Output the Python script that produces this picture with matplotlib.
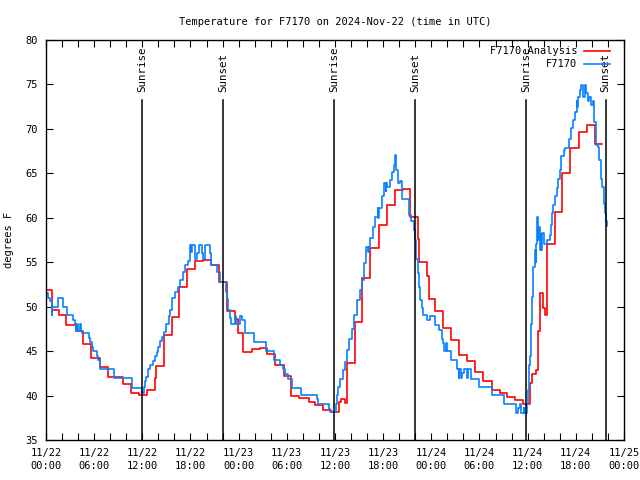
import matplotlib
matplotlib.use("Agg")
import matplotlib.pyplot as plt
from matplotlib.ticker import MultipleLocator, FixedLocator

# hours since 2024-11-22 00:00 UTC, value starts at that hour
analysis_hours = [0.0, 0.7, 1.6, 2.5, 3.7, 4.6, 5.6, 6.7, 7.7, 9.6, 10.6, 11.6,
                  12.6, 13.6, 13.7, 14.7, 15.7, 16.6, 17.6, 18.6, 19.6, 20.6, 21.6,
                  22.5, 23.5, 23.9, 24.5, 25.6, 26.6, 27.5, 28.5, 29.6, 30.5,
                  31.5, 32.7, 33.5, 34.5, 35.5, 36.5, 36.8, 37.2, 37.5, 38.5,
                  39.4, 40.4, 41.5, 42.5, 43.5, 44.5, 45.4, 46.4, 46.5, 47.4,
                  47.7, 48.4, 49.4, 50.4, 51.4, 52.4, 53.4, 54.4, 55.5, 56.5,
                  57.4, 58.4, 59.4, 60.3, 60.5, 61.0, 61.3, 61.5, 61.85, 62.1,
                  62.35, 62.4, 63.4, 64.3, 65.3, 66.4, 67.4, 68.4, 69.3]
analysis_temp = [51.9, 49.6, 49.1, 47.9, 47.3, 45.8, 44.2, 43.2, 42.1, 41.3, 40.3, 40.1,
                 40.6, 42.0, 43.3, 46.8, 48.8, 52.2, 54.2, 55.1, 55.25, 54.7, 52.8,
                 49.5, 48.6, 47.0, 44.9, 45.2, 45.4, 44.7, 43.4, 42.2, 40.0,
                 39.7, 39.3, 38.9, 38.4, 38.1, 39.3, 39.6, 39.2, 43.7, 48.3,
                 53.2, 56.6, 59.2, 61.4, 63.1, 63.2, 60.1, 57.6, 55.0, 53.5,
                 50.9, 49.5, 47.6, 46.25, 44.6, 43.9, 42.6, 41.6, 40.6, 40.25,
                 39.8, 39.5, 39.05, 41.4, 42.4, 42.9, 47.3, 51.5, 49.8, 49.1,
                 53.1, 57.1, 60.7, 65.0, 67.8, 69.7, 70.4, 68.3, 68.3]

obs_hours = [0.0, 0.3, 0.5, 0.7, 0.75, 1.5, 2.1, 2.6, 3.4, 3.6, 3.75, 3.85, 4.0, 4.2,
             4.35, 4.5, 5.3, 5.5, 5.7, 5.9, 6.3, 6.5, 6.7, 8.5, 10.7, 11.9, 12.2,
             12.3, 12.45, 12.7, 13.0, 13.3, 13.6, 13.8, 14.0, 14.2, 14.5, 14.7,
             14.9, 15.3, 15.5, 15.7, 16.1, 16.4, 16.7, 17.1, 17.3, 17.7, 17.9,
             18.1, 18.2, 18.5, 18.6, 18.8, 19.1, 19.4, 19.6, 19.8, 20.4, 20.6,
             21.3, 21.7, 22.4, 22.6, 22.7, 22.9, 23.1, 23.5, 23.7, 24.2, 24.4,
             24.8, 25.9, 27.4, 28.4, 29.2, 29.5, 29.8, 30.1, 30.6, 31.8, 33.8,
             33.9, 35.2, 35.4, 36.1, 36.3, 36.4, 36.6, 37.0, 37.2, 37.5, 37.8,
             38.1, 38.4, 38.8, 39.1, 39.4, 39.6, 39.9, 40.1, 40.2, 40.4, 40.7,
             41.0, 41.3, 41.4, 41.5, 41.8, 42.1, 42.3, 42.35, 42.5, 42.8, 43.1,
             43.3, 43.45, 43.55, 43.8, 44.1, 44.3, 45.2, 45.5, 45.8, 46.0, 46.1,
             46.3, 46.5, 46.6, 46.8, 47.0, 47.4, 47.8, 48.5, 48.9, 49.3, 49.45,
             49.6, 49.8, 49.9, 50.5, 51.2, 51.4, 51.5, 51.7, 51.8, 52.1, 52.5,
             52.6, 52.9, 54.0, 55.5, 57.1, 58.6, 58.8, 59.1, 59.2, 59.5, 59.6,
             59.9, 60.1, 60.2, 60.3, 60.4, 60.5, 60.6, 60.7, 60.9, 61.0, 61.1,
             61.2, 61.3, 61.4, 61.5, 61.6, 61.7, 61.8, 62.0, 62.4, 62.8, 62.9,
             63.0, 63.2, 63.4, 63.6, 63.8, 64.0, 64.2, 64.5, 64.7, 65.1, 65.4,
             65.7, 65.9, 66.1, 66.2, 66.3, 66.5, 66.7, 66.9, 67.1, 67.3, 67.5,
             67.7, 67.9, 68.1, 68.3, 68.5, 68.7, 68.9, 69.1, 69.3, 69.5, 69.6,
             69.8, 69.9]
obs_temp = [51.5, 51.0, 50.6, 49.1, 50.0, 51.0, 50.0, 49.1, 48.5, 48.0, 47.3, 48.0, 47.3, 48.0,
            47.3, 47.0, 46.5, 46.0, 45.5, 45.0, 44.5, 44.0, 43.0, 42.0, 40.9, 40.3, 41.0,
            41.6, 42.1, 43.0, 43.4, 43.9, 44.45, 44.9, 45.5, 46.1, 46.6, 47.2,
            48.0, 48.95, 49.6, 51.0, 51.7, 52.25, 53.0, 53.9, 54.7, 55.1, 56.9,
            56.2, 56.9, 56.2, 55.4, 56.0, 56.9, 56.0, 55.4, 56.9, 56.0, 54.7,
            53.9, 52.8, 51.7, 50.9, 49.6, 48.7, 48.0, 48.95, 48.0, 48.95, 48.5,
            47.0, 46.0, 45.0, 44.0, 43.4, 42.95, 42.4, 41.9, 40.9, 40.05, 39.6,
            39.05, 38.5, 38.2, 39.1, 40.05, 41.0, 41.9, 42.9, 43.8, 45.1, 46.4,
            47.45, 49.1, 50.75, 51.9, 53.0, 54.9, 56.75, 56.2, 56.75, 57.7, 59.0,
            60.1, 61.1, 60.0, 61.1, 62.4, 63.9, 63.0, 63.9, 63.5, 64.25, 65.2,
            65.9, 67.1, 65.4, 63.9, 64.1, 62.1, 60.3, 59.6, 58.6, 57.5, 55.4,
            53.75, 52.25, 50.75, 49.8, 49.1, 48.5, 48.95, 47.9, 47.4, 46.4, 45.9,
            45.0, 45.9, 45.0, 44.0, 42.95, 42.0, 42.95, 42.0, 42.5, 42.95, 42.0,
            42.95, 41.9, 41.0, 40.05, 39.0, 38.0, 38.6, 39.0, 38.0, 38.6, 38.0,
            39.0, 40.6, 43.4, 44.4, 48.1, 49.6, 51.1, 54.5, 56.4, 55.0, 57.1,
            60.1, 57.5, 59.0, 56.4, 58.2, 56.4, 58.25, 57.1, 57.5, 58.1, 59.2,
            60.5, 61.4, 62.4, 63.3, 64.4, 65.4, 66.9, 67.6, 67.8, 68.9, 70.1,
            71.0, 71.9, 73.1, 72.5, 73.6, 74.4, 74.9, 73.6, 74.9, 74.0, 73.1,
            73.6, 72.7, 73.1, 70.8, 68.2, 68.0, 66.5, 64.4, 63.5, 61.6, 60.5,
            59.6, 59.1]

sun_hours = [11.95, 22.05, 35.9, 46.0, 59.8, 69.7]
sun_labels = ["Sunrise", "Sunset", "Sunrise", "Sunset", "Sunrise", "Sunset"]

tick_hours = [0, 6, 12, 18, 24, 30, 36, 42, 48, 54, 60, 66, 72]
tick_labels = ["11/22\n00:00", "11/22\n06:00", "11/22\n12:00", "11/22\n18:00",
               "11/23\n00:00", "11/23\n06:00", "11/23\n12:00", "11/23\n18:00",
               "11/24\n00:00", "11/24\n06:00", "11/24\n12:00", "11/24\n18:00",
               "11/25\n00:00"]

plt.rcParams['font.family'] = ['DejaVu Sans Mono']
plt.rcParams['font.size'] = 7.5

fig = plt.figure(figsize=(6.4, 4.8), dpi=100)
ax = fig.add_axes([46/640, 40/480, 578/640, 400/480])

ax.step(analysis_hours, analysis_temp, where='post', color='#ff0000', lw=1.2,
        label='F7170 Analysis')
ax.step(obs_hours, obs_temp, where='post', color='#0a80ff', lw=1.2, label='F7170')

for h, lab in zip(sun_hours, sun_labels):
    ax.plot([h, h], [35, 73.25], color='black', lw=1.1)
    ax.text(h, 74.1, lab, rotation=90, ha='center', va='bottom', fontsize=7.8)

ax.set_xlim(0, 72)
ax.set_ylim(35, 80)
ax.xaxis.set_major_locator(FixedLocator(tick_hours))
ax.xaxis.set_minor_locator(MultipleLocator(2))
ax.set_xticklabels(tick_labels, linespacing=1.35)
ax.yaxis.set_major_locator(MultipleLocator(5))
ax.tick_params(which='both', direction='in', length=5, width=0.8,
               top=True, right=True, labelsize=7.5, pad=6)
for s in ax.spines.values():
    s.set_linewidth(1.0)

ax.set_title("Temperature for F7170 on 2024-Nov-22 (time in UTC)", fontsize=7.5, pad=11)
ax.set_ylabel("degrees F", fontsize=7.5)
ax.yaxis.set_label_coords(-32/578, 0.5)

ax.legend(loc='upper right', bbox_to_anchor=(1 - 8/578, 1), frameon=False,
          markerfirst=False, fontsize=7.5, handlelength=2.5, handletextpad=0.6,
          borderaxespad=0.2, labelspacing=0.3)

fig.savefig("out.png", dpi=100)
